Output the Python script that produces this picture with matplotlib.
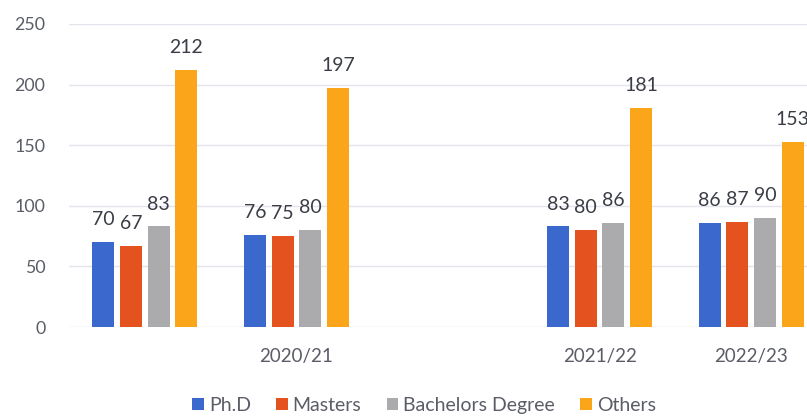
import matplotlib
matplotlib.use("Agg")
import matplotlib.pyplot as plt
import numpy as np

categories = ["", "2020/21", "", "2021/22", "2022/23"]
series_names = ["Ph.D", "Masters", "Bachelors Degree", "Others"]
phd = [70, 76, None, 83, 86]
masters = [67, 75, None, 80, 87]
bachelors = [83, 80, None, 86, 90]
others = [212, 197, None, 181, 153]
colors = ["#3B68CC", "#E4531F", "#ABABAE", "#FBA61A"]

plt.rcParams['font.family'] = ['Lato', 'DejaVu Sans']

W, H = 807, 419
fig = plt.figure(figsize=(W / 100, H / 100), dpi=100)
left, right = 69, 827
bottom_px, top_px = 327, 24
ax = fig.add_axes([left / W, (H - bottom_px) / H, (right - left) / W, (bottom_px - top_px) / H])

x = np.arange(len(categories))
bw = 0.145
step = 0.183
all_series = [phd, masters, bachelors, others]
handles = []
for i, (name, vals, c) in enumerate(zip(series_names, all_series, colors)):
    xs = [xi + (i - 1.5) * step for xi, v in zip(x, vals) if v is not None]
    vs = [v for v in vals if v is not None]
    bars = ax.bar(xs, vs, width=bw, color=c, label=name, zorder=3)
    handles.append(bars)
    for xx, v in zip(xs, vs):
        ax.annotate(str(v), (xx, v), xytext=(0, 10), textcoords="offset points",
                    ha="center", va="bottom", fontsize=14, color="#3A3D45",
                    annotation_clip=False)

ax.set_xlim(-0.5, len(categories) - 0.5)
ax.set_ylim(0, 250)
ax.set_yticks([0, 50, 100, 150, 200, 250])
ax.set_xticks(x)
ax.set_xticklabels(categories)
ax.tick_params(axis="both", length=0, labelcolor="#5A5D66")
ax.tick_params(axis="x", pad=15, labelsize=13.5)
ax.tick_params(axis="y", pad=17, labelsize=12.8)
ax.grid(axis="y", color="#E4E4EC", linewidth=1, zorder=0)
for s in ax.spines.values():
    s.set_visible(False)

fig.legend(handles=handles, labels=series_names, loc="center",
           bbox_to_anchor=(424 / W, 0.033), ncol=4, frameon=False,
           fontsize=14, handlelength=0.6, handleheight=0.6,
           handletextpad=0.25, columnspacing=1.3, labelcolor="#5A5D66")

fig.savefig("out.png", dpi=100)
